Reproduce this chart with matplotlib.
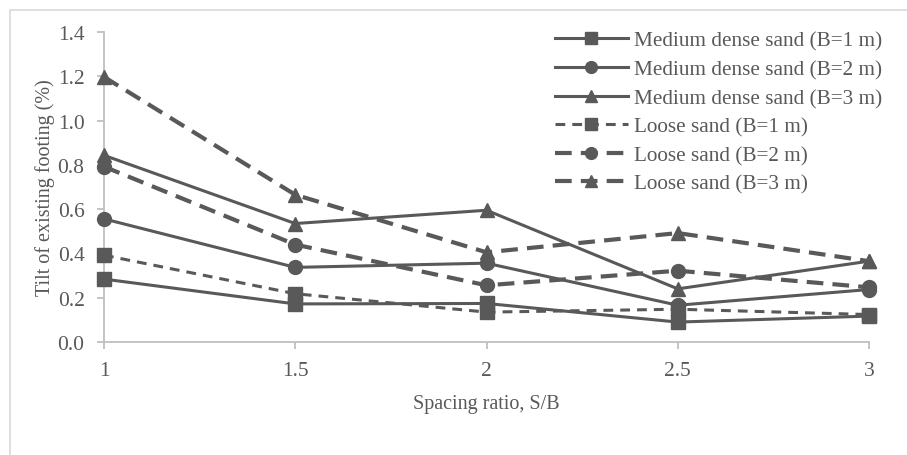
import matplotlib.pyplot as plt
from matplotlib.patches import Rectangle

#
# Data
#

spacing = [1, 1.5, 2, 2.5, 3]                                          # Spacing ratio S/B

medium_b1 = [0.284, 0.172, 0.174, 0.090, 0.117]
medium_b2 = [0.556, 0.337, 0.356, 0.166, 0.237]
medium_b3 = [0.843, 0.535, 0.595, 0.240, 0.365]
loose_b1 = [0.392, 0.218, 0.135, 0.148, 0.124]
loose_b2 = [0.792, 0.440, 0.256, 0.322, 0.247]
loose_b3 = [1.197, 0.665, 0.405, 0.492, 0.365]

labels = ["Medium dense sand (B=1 m)", "Medium dense sand (B=2 m)", "Medium dense sand (B=3 m)",
          "Loose sand (B=1 m)", "Loose sand (B=2 m)", "Loose sand (B=3 m)"]

#
# Settings
#

grey = "#595959"
axis_grey = "#bfbfbf"
plt.rcParams["font.family"] = ["Liberation Serif", "DejaVu Serif"]

fig = plt.figure(figsize=(9.07, 4.56), dpi=100)
ax = fig.add_axes([104 / 907, 1 - 343 / 456, (869 - 104) / 907, (343 - 33) / 456])

fig.patches.append(Rectangle((10 / 907, -0.1), 1.0, 1 - 11 / 456 + 0.1, transform=fig.transFigure,
                             fill=False, edgecolor="#d9d9d9", linewidth=1.2))   # Chart border

series = [
    (medium_b1, "s", "-", 2.2, None),
    (medium_b2, "o", "-", 2.2, None),
    (medium_b3, "^", "-", 2.2, None),
    (loose_b1, "s", "--", 2.2, (3.2, 2.3)),
    (loose_b2, "o", "--", 3.0, (4.0, 2.2)),
    (loose_b3, "^", "--", 3.0, (4.0, 2.2)),
]

for (vals, mk, ls, lw, dash), lab in zip(series, labels):
    line, = ax.plot(spacing, vals, color=grey, marker=mk, markersize=10, linestyle=ls,
                    linewidth=lw, label=lab, clip_on=False, zorder=3)
    if dash:
        line.set_dashes(dash)

ax.set_xlim(1, 3)
ax.set_ylim(0, 1.4)
ax.set_xticks([1, 1.5, 2, 2.5, 3])
ax.set_xticklabels(["1", "1.5", "2", "2.5", "3"])
ax.set_yticks([0, 0.2, 0.4, 0.6, 0.8, 1.0, 1.2, 1.4])
ax.set_yticklabels(["{:.1f}".format(v) for v in ax.get_yticks()])

[ax.spines[i].set_visible(False) for i in ["top", "right"]]
[ax.spines[i].set_color(axis_grey) for i in ["left", "bottom"]]
[ax.spines[i].set_linewidth(1.3) for i in ["left", "bottom"]]
ax.tick_params(axis="both", colors=axis_grey, length=5, width=1.3, labelcolor=grey, labelsize=15.5)
ax.tick_params(axis="x", pad=9)
ax.tick_params(axis="y", pad=9)

ax.set_xlabel("Spacing ratio, S/B", color=grey, fontsize=14.5, labelpad=10)
ax.set_ylabel("Tilt of existing footing (%)", color=grey, fontsize=14.5, labelpad=2)

leg = ax.legend(loc="upper right", bbox_to_anchor=(1.042, 1.065), frameon=False, fontsize=15.3,
                handlelength=3.4, handletextpad=0.3, labelspacing=0.41, labelcolor=grey,
                markerscale=0.85)

fig.savefig("out.png", dpi=100)
